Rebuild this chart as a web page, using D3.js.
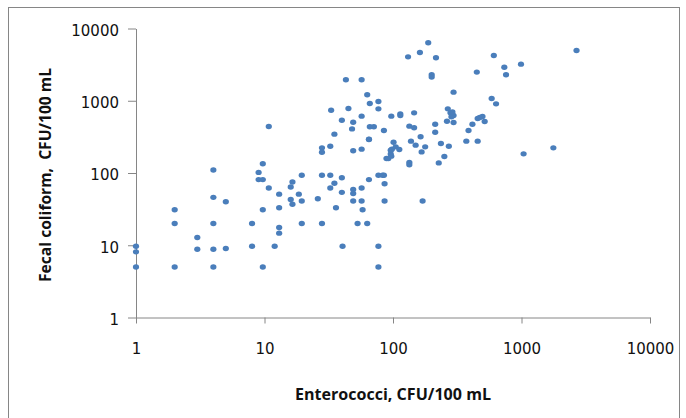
<!DOCTYPE html>
<html>
<head>
<meta charset="utf-8">
<script src="https://cdn.jsdelivr.net/npm/d3@7"></script>
<style>
  body { margin: 0; background: #fff; }
  svg { display: block; }
</style>
</head>
<body>
<div id="chart"></div>
<script>
// Enterococci (x) vs fecal coliform (y), CFU/100 mL
const enterococci = [
    1, 1, 1, 2, 2, 2, 3, 3, 4, 4, 4, 4, 4, 5, 5, 8, 8, 9, 9, 9.7,
    9.7, 9.7, 9.7, 10.8, 10.8, 12, 13, 13, 13, 13, 16, 16.5, 16, 16.5, 18.5, 19.5, 19.5, 19.5, 26, 28,
    28, 28, 28, 32.5, 32.5, 32.5, 35, 35, 36, 33, 40, 40, 40, 40.5, 43, 45, 48, 49, 49, 49,
    49, 49, 53, 57, 57, 57, 57, 57, 58, 63, 63, 65, 66, 66, 71, 65, 77, 77, 77, 77,
    77, 85, 85, 86, 86, 89, 92, 97, 96, 96, 101, 105, 112, 114, 114, 134, 134, 134, 138, 131,
    146, 146, 150, 162, 164, 167, 170, 178, 188, 200, 200, 216, 213, 213, 227, 236, 251, 263, 267, 272,
    280, 296, 296, 296, 290, 285, 372, 387, 415, 449, 456, 474, 497, 456, 517, 586, 609, 634, 735, 758,
    991, 1038, 1770, 2680, 98, 97, 65, 83
];
const fecalColiform = [
    9.7, 8.1, 5, 31, 20, 5, 12.8, 8.8, 110, 46, 20, 8.8, 5, 40, 9, 20, 9.7, 102, 81, 81,
    134, 31, 5, 440, 62, 9.7, 51, 33, 17.6, 14.7, 64, 75, 43, 37, 51, 93, 41, 20, 44, 93,
    20, 223, 194, 235, 93, 62, 345, 72, 33, 740, 538, 86, 54, 9.7, 1950, 780, 408, 505, 203, 59,
    52, 41, 20, 1950, 612, 214, 62, 41, 31, 1208, 20, 81, 916, 436, 436, 291, 977, 773, 93, 9.7,
    5, 388, 93, 71, 41, 159, 159, 612, 183, 207, 267, 230, 211, 659, 625, 445, 140, 130, 276, 4050,
    680, 422, 243, 4650, 317, 196, 41, 230, 6340, 2285, 2130, 3930, 474, 367, 138, 256, 169, 521, 773, 235,
    680, 1315, 500, 625, 700, 600, 276, 388, 474, 2490, 568, 586, 605, 276, 517, 1075, 4230, 906, 2915, 2285,
    3210, 184, 223, 4960, 214, 171, 294, 93
];
const xTicks = [1, 10, 100, 1000, 10000];
const yTicks = [1, 10, 100, 1000, 10000];
const xTitle = "Enterococci, CFU/100 mL";
const yTitle = "Fecal coliform,  CFU/100 mL";

const points = enterococci.map((e, i) => ({ x: e, y: fecalColiform[i] }));

const width = 686, height = 418;
const axisColor = "#868686";
const dotColor = "#4a7ebb";
const font = "'DejaVu Sans', sans-serif";

const svg = d3.select("#chart").append("svg")
    .attr("width", width)
    .attr("height", height);

// outer chart frame
svg.append("rect")
    .attr("x", 8.5)
    .attr("y", 7.5)
    .attr("width", 671)
    .attr("height", 440)
    .attr("fill", "none")
    .attr("stroke", axisColor)
    .attr("stroke-width", 1);

const x = d3.scaleLog()
    .domain([1, 10000])
    .range([136, 650]);
const y = d3.scaleLog()
    .domain([1, 10000])
    .range([317.5, 28.5]);

const xAxis = svg.append("g")
    .attr("transform", `translate(0,${y(1)})`)
    .call(d3.axisBottom(x).tickValues(xTicks).tickFormat(d3.format("d"))
        .tickSize(6).tickSizeOuter(0).tickPadding(20));

const yAxis = svg.append("g")
    .attr("transform", `translate(${x(1)},0)`)
    .call(d3.axisLeft(y).tickValues(yTicks).tickFormat(d3.format("d"))
        .tickSize(8).tickSizeOuter(0).tickPadding(9));

yAxis.selectAll(".tick text").attr("dy", "0.45em");

[xAxis, yAxis].forEach(g => {
    g.select(".domain").attr("stroke", axisColor);
    g.selectAll(".tick line").attr("stroke", axisColor);
    g.selectAll(".tick text")
        .attr("fill", "#111")
        .attr("font-family", font)
        .attr("font-size", 15);
});

svg.append("g")
    .selectAll("ellipse")
    .data(points)
    .join("ellipse")
    .attr("cx", d => x(d.x))
    .attr("cy", d => y(d.y))
    .attr("rx", 3.1)
    .attr("ry", 2.7)
    .attr("fill", dotColor);

svg.append("text")
    .attr("x", 393)
    .attr("y", 400)
    .attr("text-anchor", "middle")
    .attr("font-family", "'Open Sans', sans-serif")
    .attr("font-weight", 700)
    .attr("font-size", 15.5)
    .attr("textLength", 196)
    .attr("lengthAdjust", "spacingAndGlyphs")
    .attr("fill", "#111")
    .text(xTitle);

svg.append("text")
    .attr("transform", `translate(51,${(y(1) + y(10000)) / 2 + 2}) rotate(-90)`)
    .attr("text-anchor", "middle")
    .style("white-space", "pre")
    .attr("font-family", "'Open Sans', sans-serif")
    .attr("font-weight", 700)
    .attr("font-size", 15.5)
    .attr("textLength", 214)
    .attr("lengthAdjust", "spacingAndGlyphs")
    .attr("fill", "#111")
    .text(yTitle);
</script>
</body>
</html>
